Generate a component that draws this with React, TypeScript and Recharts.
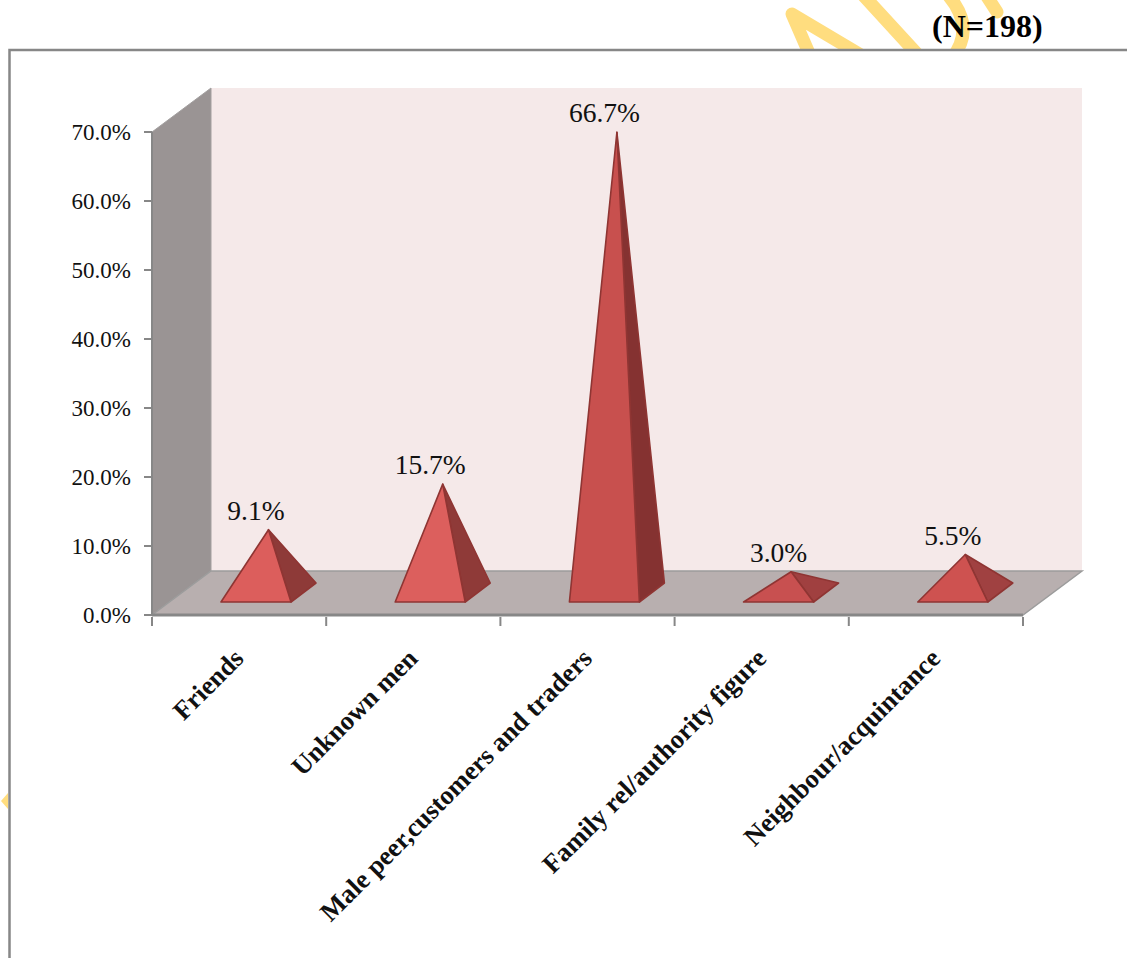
import { BarChart, Bar, XAxis, YAxis, LabelList, ReferenceArea } from "recharts";

const categories = [
  "Friends",
  "Unknown men",
  "Male peer,customers and traders",
  "Family rel/authority figure",
  "Neighbour/acquintance",
];
const shares = [9.1, 15.7, 66.7, 3.0, 5.5];
const yTicks = [0, 10, 20, 30, 40, 50, 60, 70];

const frontColors = ["#dc5e5c", "#dc5f5d", "#c8504e", "#c85050", "#ce5250"];
const sideColors = ["#8e3a38", "#8f3a38", "#853231", "#a04040", "#a04141"];

const rows = categories.map((name, i) => ({ name, share: shares[i] }));

// fake 3D: how far the back wall sits behind the axes
const WALL_DX = 59;
const WALL_DY = 44;
// pyramid base depth, and how far its front edge sits from the axis plane
const BASE_DX = 25;
const BASE_DY = 19;
const FRONT_DX = 17;
const FRONT_DY = 13;

const GREY = "#878787";
const serif = "'Liberation Serif', serif";

function Walls({ x, y, width, height }: any) {
  const bottom = y + height;
  const right = x + width;
  return (
    <g>
      <polygon
        points={`${x + WALL_DX},${y - WALL_DY} ${right + WALL_DX},${y - WALL_DY} ${right + WALL_DX},${bottom - WALL_DY} ${x + WALL_DX},${bottom - WALL_DY}`}
        fill="#f5e9e9"
      />
      <polygon
        points={`${x},${y} ${x + WALL_DX},${y - WALL_DY} ${x + WALL_DX},${bottom - WALL_DY} ${x},${bottom}`}
        fill="#9a9494"
        stroke="#a3a0a0"
      />
      <polygon
        points={`${x},${bottom} ${x + WALL_DX},${bottom - WALL_DY} ${right + WALL_DX},${bottom - WALL_DY} ${right},${bottom}`}
        fill="#b8afaf"
        stroke="#9c9c9c"
        strokeWidth={1.5}
      />
    </g>
  );
}

function Pyramid({ x, y, width, height, index }: any) {
  const left = x + FRONT_DX;
  const right = left + width;
  const base = y + height - FRONT_DY;
  const apexX = left + width / 2 + BASE_DX / 2;
  const apexY = y - FRONT_DY - BASE_DY / 2;
  return (
    <g stroke="#8f3533" strokeWidth={1.6} strokeLinejoin="round">
      <polygon
        points={`${right},${base} ${right + BASE_DX},${base - BASE_DY} ${apexX},${apexY}`}
        fill={sideColors[index]}
      />
      <polygon
        points={`${left},${base} ${right},${base} ${apexX},${apexY}`}
        fill={frontColors[index]}
      />
    </g>
  );
}

function ValueLabel({ x, y, width, value }: any) {
  return (
    <text
      x={x + width / 2 + FRONT_DX}
      y={y - FRONT_DY - BASE_DY / 2 - 10}
      textAnchor="middle"
      fontFamily={serif}
      fontSize={27.5}
      fill="#111"
    >
      {Number(value).toFixed(1)}%
    </text>
  );
}

// tick marks sit on the category boundaries, labels run up to the band centre
function CategoryTick({ x, y, payload, index }: any) {
  const band = 871 / categories.length;
  const last = index === categories.length - 1;
  return (
    <g>
      <line x1={x - band / 2} x2={x - band / 2} y1={y} y2={y + 9} stroke={GREY} strokeWidth={2} />
      {last && <line x1={x + band / 2} x2={x + band / 2} y1={y} y2={y + 9} stroke={GREY} strokeWidth={2} />}
      <text
        transform={`translate(${x + 6} ${y + 43}) rotate(-45)`}
        textAnchor="end"
        fontFamily={serif}
        fontWeight="bold"
        fontSize={26.5}
        fill="#111"
      >
        {payload.value}
      </text>
    </g>
  );
}

function Page() {
  return (
    <svg width={1127} height={958} style={{ position: "absolute", left: 0, top: 0 }}>
      {/* ribbons of the page watermark, cut off by the chart frame */}
      <g fill="none" stroke="#ffdd7f" strokeWidth={13} strokeLinecap="round" strokeLinejoin="round">
        <path d="M812 60 L792 14 L866 58" />
        <path d="M863 -5 L918 55" />
        <path d="M948 -5 Q976 28 952 58" />
        <path d="M986 -5 L997 12" />
      </g>
      <rect x={0} y={50} width={1127} height={908} fill="#fff" />
      <polygon points="1,801 8,793 8,809" fill="#ffdd7f" />
      <path d="M1127 50 L9.5 50 L9.5 958" fill="none" stroke={GREY} strokeWidth={2.5} />
      <text x={932} y={37} fontFamily={serif} fontWeight="bold" fontSize={32} fill="#000">
        (N=198)
      </text>
    </svg>
  );
}

export default function App() {
  return (
    <div style={{ position: "absolute", left: 0, top: 0, width: 1127, height: 958, overflow: "hidden" }}>
      <Page />
      <div style={{ position: "absolute", left: 0, top: 0 }}>
        <BarChart
          width={1127}
          height={958}
          data={rows}
          barSize={70}
          margin={{ top: 132, right: 104, bottom: 0, left: 52 }}
        >
          <ReferenceArea y1={0} y2={70} shape={<Walls />} ifOverflow="visible" />
          <XAxis
            dataKey="name"
            height={343}
            interval={0}
            axisLine={{ stroke: GREY, strokeWidth: 3 }}
            tickLine={false}
            tickSize={0}
            tick={<CategoryTick />}
          />
          <YAxis
            width={100}
            domain={[0, 70]}
            ticks={yTicks}
            tickFormatter={(v) => `${v.toFixed(1)}%`}
            axisLine={{ stroke: GREY, strokeWidth: 2 }}
            tickLine={{ stroke: GREY, strokeWidth: 2 }}
            tickSize={8}
            tickMargin={13}
            tick={{ fontFamily: serif, fontSize: 23, fill: "#111" }}
          />
          <Bar dataKey="share" shape={<Pyramid />} isAnimationActive={false}>
            <LabelList dataKey="share" content={<ValueLabel />} />
          </Bar>
        </BarChart>
      </div>
    </div>
  );
}
